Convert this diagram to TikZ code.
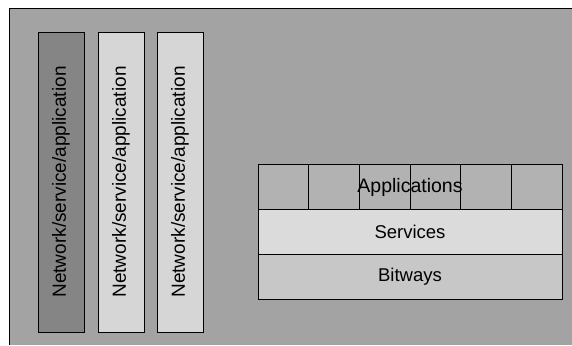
\documentclass[tikz,border=0pt]{standalone}
\usepackage{fontspec}
\setmainfont{Liberation Sans}
\definecolor{backgray}{gray}{0.64}
\definecolor{coldark}{gray}{0.52}
\definecolor{collight}{gray}{0.84}
\definecolor{appgray}{gray}{0.70}
\definecolor{servgray}{gray}{0.86}
\definecolor{bitgray}{gray}{0.78}
\tikzset{
  col/.style={draw, line width=0.9pt, rotate=90, minimum width=300pt,
    minimum height=46pt, inner sep=0pt, font=\fontsize{19}{21}\selectfont},
  layer/.style={draw, line width=0.9pt, minimum width=304pt,
    minimum height=45pt, inner sep=0pt, font=\fontsize{18.5}{20}\selectfont},
  cell/.style={draw, line width=0.9pt, fill=appgray, minimum width=50.67pt,
    minimum height=45pt, inner sep=0pt}
}

\begin{document}
\begin{tikzpicture}[x=1pt,y=-1pt]
      \useasboundingbox (0,0) rectangle (572,345);
      % background panel
      \fill[backgray] (9,8) rectangle (572,345);
      \draw[line width=0.8pt] (9,345) -- (9,8) -- (572,8);
      % vertical stacks
      \node[col, fill=coldark]  (c1) at (61,182)  {Network/service/application};
      \node[col, fill=collight] (c2) at (121,182) {Network/service/application};
      \node[col, fill=collight] (c3) at (180,182) {Network/service/application};
      % layered model
      \foreach \i in {0,...,5}
        \node[cell] (cell\i) at (258+25.33+\i*50.67,187) {};
      \node[font=\fontsize{19.5}{21}\selectfont] (apps) at (410,187) {Applications};
      \node[layer, fill=servgray] (serv) at (410,232) {Services};
      \node[layer, fill=bitgray, below of=serv, node distance=45pt] (bits) {Bitways};
    \end{tikzpicture}
\end{document}
